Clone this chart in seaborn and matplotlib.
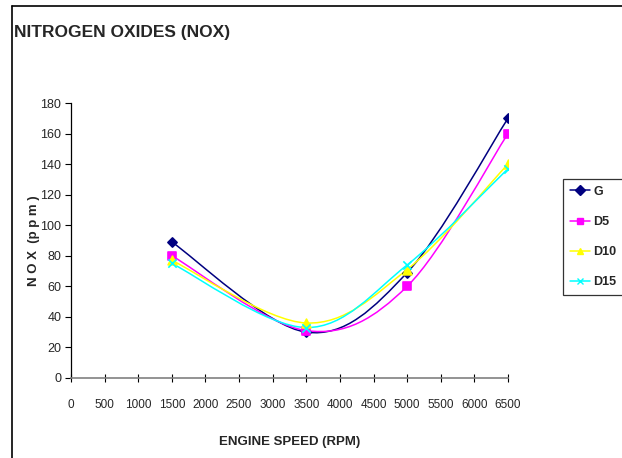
import matplotlib
matplotlib.use('Agg')
import matplotlib.pyplot as plt
import seaborn as sns
import pandas as pd
from matplotlib.path import Path
from matplotlib.patches import PathPatch
from matplotlib.lines import Line2D

# data
speed = [1500, 3500, 5000, 6500]
fuels = ['G', 'D5', 'D10', 'D15']
nox_g = [89, 30, 69, 170]
nox_d5 = [80, 31, 60, 160]
nox_d10 = [77, 36, 71, 140]
nox_d15 = [75, 33, 74, 137]
x_ticks = list(range(0, 6501, 500))
y_ticks = list(range(0, 181, 20))

colors = {'G': '#000080', 'D5': '#FF00FF', 'D10': '#FFFF00', 'D15': '#00FFFF'}
markers = {'G': 'D', 'D5': 's', 'D10': '^', 'D15': 'x'}
msizes = {'G': 22, 'D5': 30, 'D10': 40, 'D15': 36}

df = pd.DataFrame({
    'speed': speed * 4,
    'nox': nox_g + nox_d5 + nox_d10 + nox_d15,
    'fuel': [f for f in fuels for _ in speed],
})

sns.set_theme(style='white')
plt.rcParams['font.family'] = ['Liberation Sans', 'DejaVu Sans']


def smooth_path(xs, ys):
    # Excel-style smoothed line: cubic Bezier through each point
    pts = list(zip(xs, ys))
    verts = [pts[0]]
    codes = [Path.MOVETO]
    n = len(pts)
    for i in range(n - 1):
        p0 = pts[i - 1] if i > 0 else pts[i]
        p1 = pts[i]
        p2 = pts[i + 1]
        p3 = pts[i + 2] if i + 2 < n else pts[i + 1]
        c1 = (p1[0] + (p2[0] - p0[0]) / 6, p1[1] + (p2[1] - p0[1]) / 6)
        c2 = (p2[0] - (p3[0] - p1[0]) / 6, p2[1] - (p3[1] - p1[1]) / 6)
        verts += [c1, c2, p2]
        codes += [Path.CURVE4] * 3
    return Path(verts, codes)


fig = plt.figure(figsize=(6.22, 4.58), dpi=100)
ax = fig.add_axes([71 / 622, 1 - 378 / 458, 437 / 622, 275 / 458])

for fuel in fuels:
    sub = df[df['fuel'] == fuel]
    ax.add_patch(PathPatch(smooth_path(sub['speed'].tolist(), sub['nox'].tolist()),
                           facecolor='none', edgecolor=colors[fuel], lw=1.1, zorder=2))

for fuel in fuels:
    sub = df[df['fuel'] == fuel]
    sns.scatterplot(data=sub, x='speed', y='nox', ax=ax, marker=markers[fuel],
                    color=colors[fuel], s=msizes[fuel], edgecolor=colors[fuel],
                    linewidth=1.2, zorder=3, legend=False)

ax.set_xlim(0, 6500)
ax.set_ylim(0, 180)
ax.set_xticks(x_ticks)
ax.set_yticks(y_ticks)
ax.tick_params(axis='x', direction='inout', length=6, width=0.8, labelsize=8.5, pad=12,
               color='black', bottom=True)
ax.tick_params(axis='y', direction='out', length=4, width=0.8, labelsize=9, pad=3,
               color='black', left=True)
for s in ['top', 'right']:
    ax.spines[s].set_visible(False)
ax.spines['left'].set_color('black')
ax.spines['bottom'].set_color('#808080')
ax.spines['left'].set_linewidth(0.9)
ax.spines['bottom'].set_linewidth(1.2)
ax.set_xlabel('ENGINE SPEED (RPM)', fontsize=9.5, fontweight='bold', labelpad=18)
ax.set_ylabel('N O X  (p p m )', fontsize=9.5, fontweight='bold', labelpad=0)
ax.patch.set_alpha(0)

fig.text(14 / 622, 1 - 32 / 458, 'NITROGEN OXIDES (NOX)', fontsize=12.5, fontweight='bold',
         ha='left', va='center')

handles = [Line2D([0], [0], color=colors[f], marker=markers[f], markersize=5,
                  markeredgecolor=colors[f], lw=1.1) for f in fuels]
leg = fig.legend(handles, fuels, loc='center', bbox_to_anchor=(593 / 622, 1 - 237 / 458),
                 frameon=True, fancybox=False, edgecolor='black', handlelength=1.6,
                 handletextpad=0.25, labelspacing=1.45, borderpad=0.55, borderaxespad=0,
                 prop={'weight': 'bold', 'size': 9})
leg.get_frame().set_linewidth(0.9)

# outer frame of the figure panel
fig.add_artist(Line2D([12 / 622, 12 / 622], [0, 1 - 6 / 458], color='black', lw=1.2))
fig.add_artist(Line2D([12 / 622, 1], [1 - 6 / 458, 1 - 6 / 458], color='black', lw=1.2))

fig.savefig('out.png', dpi=100)
